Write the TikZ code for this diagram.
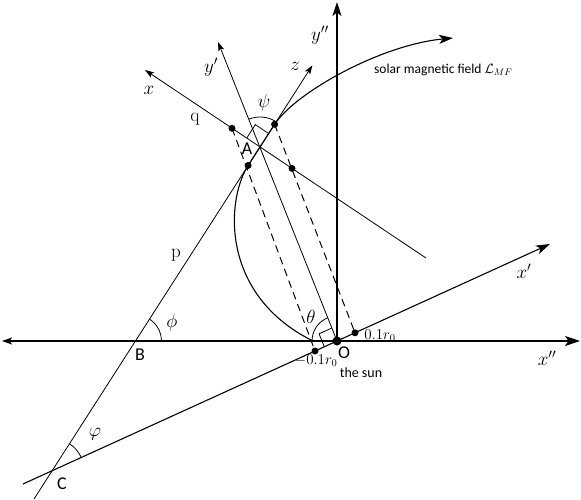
\RequirePackage{fix-cm}
\documentclass[tikz,border=0pt]{standalone}
\usepackage{fontspec}
\newfontfamily\carlito{Carlito}
\usetikzlibrary{arrows.meta,calc}
\begin{document}
\begin{tikzpicture}[x=1pt,y=1pt,
  thinline/.style={line width=0.8pt},
  axisline/.style={line width=1.3pt},
  bigarrow/.style={-{Stealth[length=14pt,width=9pt,inset=3.5pt]}},
  smallarrow/.style={-{Stealth[length=9pt,width=6pt,inset=2pt]}},
  dot/.style={circle,fill=black,inner sep=0pt,minimum size=7pt},
  mlabel/.style={inner sep=0pt,font=\fontsize{19}{22}\selectfont},
  slabel/.style={inner sep=0pt,font=\carlito\fontsize{18}{20}\selectfont},
  nlabel/.style={inner sep=0pt,font=\fontsize{15}{17}\selectfont},
  dashedline/.style={line width=1pt,dash pattern=on 7.5pt off 5pt}]
\useasboundingbox (0,0) rectangle (581,499);
% key points
\coordinate (O) at (337,158);
\coordinate (xL) at (2,158);
\coordinate (xR) at (580,158);
\coordinate (yT) at (337,497);
\coordinate (xpT) at (550,255);
\coordinate (xpB) at (23,15);
\coordinate (A) at (260,352);
\coordinate (zT) at (312.4,433.7);
\coordinate (pB) at (34,0);
\coordinate (xT) at (145,429);
\coordinate (xE) at (426,241);
\coordinate (ypT) at (218,457);
\coordinate (U) at (274.6,374.7);
\coordinate (L) at (248.1,333.5);
\coordinate (Q) at (232,370.7);
\coordinate (M) at (292,330.6);
\coordinate (N1) at (315,148);
\coordinate (N2) at (355,166.2);
\coordinate (P0) at (313,158);
\coordinate (F) at (453,461);
\coordinate (B) at (intersection of A--pB and xL--xR);
\coordinate (C) at (intersection of A--pB and O--xpB);
% axes
\draw[axisline,{Stealth[length=10pt,width=7pt,inset=2.5pt]}-{Stealth[length=15pt,width=10pt,inset=3.5pt]}] (xL) -- (xR);
\draw[axisline,bigarrow] (O) -- (yT);
\draw[line width=1.1pt,bigarrow] (xpB) -- (xpT);
\draw[thinline] (pB) -- (U);
\draw[thinline,smallarrow] (U) -- (zT);
\draw[thinline,smallarrow] (xE) -- (xT);
\draw[thinline,smallarrow] (O) -- (ypT);
\draw[dashedline] (Q) -- (N1);
\draw[dashedline] (U) -- (N2);
% magnetic field line
\draw[line width=1.1pt,bigarrow] (P0) .. controls (220,204) and (226,299) .. (L) -- (U) .. controls (295,406) and (380,454) .. (F);
% angles
\draw[thinline] ([shift={(57.3:30)}]A) arc[start angle=57.3,end angle=111.7,radius=30];
\draw[thinline] ([shift={(111.7:25)}]O) arc[start angle=111.7,end angle=180,radius=25];
\draw[thinline] ([shift={(0:26)}]B) arc[start angle=0,end angle=57.3,radius=26];
\draw[thinline] ([shift={(24.5:32)}]C) arc[start angle=24.5,end angle=57.3,radius=32];
% right angle marks
\coordinate (ra1) at ($(A)!16pt!(xT)$);
\coordinate (ra2) at ($(A)!16pt!(zT)$);
\draw[thinline] (ra1) -- ($(ra1)+(ra2)-(A)$) -- (ra2);
\coordinate (rb1) at ($(O)!14pt!(ypT)$);
\coordinate (rb2) at ($(O)!14pt!(xpB)$);
\draw[thinline] (rb1) -- ($(rb1)+(rb2)-(O)$) -- (rb2);
% dots
\node[dot] (dQ) at (Q) {};
\node[dot] (dU) at (U) {};
\node[dot] (dL) at (L) {};
\node[dot] (dM) at (M) {};
\node[dot] (dN1) at (N1) {};
\node[dot] (dN2) at (N2) {};
\node[dot,minimum size=9pt] (dO) at (O) {};
% labels
\node[mlabel] (lx) at (149,409) {$x$};
\node[mlabel] (lyp) at (211,432) {$y'$};
\node[mlabel] (lz) at (295,433) {$z$};
\node[mlabel] (lypp) at (320,464) {$y''$};
\node[mlabel] (lpsi) at (264,396) {$\psi$};
\node[mlabel] (lq) at (195,380) {q};
\node[slabel] (lA) at (247,350) {A};
\node[mlabel] (lp) at (176,244) {p};
\node[mlabel] (lphi) at (172,176) {$\phi$};
\node[slabel] (lB) at (140,144) {B};
\node[slabel] (lC) at (62,15) {C};
\node[mlabel] (lvphi) at (95,65) {$\varphi$};
\node[mlabel] (ltheta) at (311,182) {$\theta$};
\node[slabel] (lO) at (344,146.5) {O};
\node[inner sep=0pt,font=\carlito\fontsize{14}{16}\selectfont] (lsun) at (361,126) {the sun};
\node[nlabel] (lm) at (316,138) {$-0.1r_0$};
\node[nlabel] (lpl) at (380,163.5) {$0.1r_0$};
\node[mlabel] (lxp) at (524,228) {$x'$};
\node[mlabel] (lxpp) at (547,141) {$x''$};
\node[anchor=west,inner sep=0pt,font=\carlito\fontsize{13.5}{16}\selectfont] (lmf) at (374,429) {solar magnetic field $\mathcal{L}_{MF}$};
\end{tikzpicture}
\end{document}
